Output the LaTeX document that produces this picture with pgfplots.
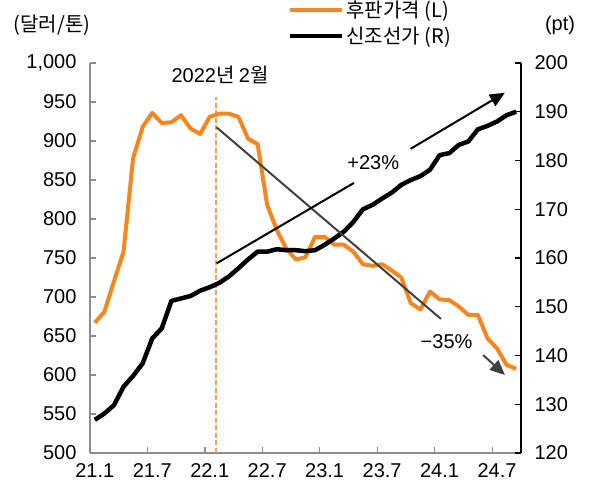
\documentclass[border=0pt]{standalone}
\usepackage{fontspec}
\setmainfont{Liberation Sans}
\newfontfamily\kr{Noto Sans CJK KR}
\usepackage{pgfplots}
\usepackage{pgfplotstable}
\pgfplotsset{compat=1.18}
\usetikzlibrary{arrows.meta,calc}
\definecolor{orng}{HTML}{F7861F}
\definecolor{dashc}{HTML}{F5A050}
\definecolor{gry}{HTML}{404040}
\definecolor{axg}{HTML}{8C8C8C}
\pgfplotstableread{
i steel ship
0 667 126.8
1 681 128.1
2 720 129.8
3 758 133.6
4 878 135.8
5 918 138.4
6 936 143.5
7 923 145.6
8 924 151.2
9 933 151.7
10 916 152.2
11 909 153.3
12 931 154.0
13 935 154.9
14 935 156.2
15 931 157.9
16 903 159.7
17 896 161.3
18 818 161.3
19 786 161.8
20 762 161.6
21 748 161.6
22 751 161.4
23 777 161.6
24 777 162.7
25 767 164.0
26 767 165.4
27 758 167.4
28 742 170.0
29 740 170.9
30 742 172.2
31 734 173.4
32 725 175.0
33 692 176.0
34 684 176.8
35 707 178.1
36 697 181.1
37 696 181.5
38 688 183.2
39 677 183.9
40 677 186.4
41 647 187.1
42 634 188.0
43 613 189.3
44 608 190.0
}\data
\newcommand{\fs}{\fontsize{20}{22}\selectfont}
\begin{document}
\begin{tikzpicture}
\pgfplotsset{
  base/.style={
    scale only axis, width=431pt, height=390pt,
    xmin=-0.5, xmax=44.5,
    tick align=inside, major tick length=6pt, minor tick length=6pt,
    ticklabel style={font=\fs},
    /pgf/number format/assume math mode=true,
    clip=false,
  }
}
\begin{axis}[base, name=ax,
  ymin=500, ymax=1000,
  axis y line*=left, axis x line*=bottom,
  axis line style={axg, line width=1.2pt},
  xtick={0,6,...,42},
  xticklabels={21.1,21.7,22.1,22.7,23.1,23.7,24.1,24.7},
  major x tick style={draw=none},
  minor xtick={5.5,11.5,...,41.5},
  minor x tick style={axg, line width=1.2pt},
  ytick={500,550,...,1000},
  y tick style={axg, line width=1.2pt},
  /pgf/number format/1000 sep={,},
  yticklabel style={xshift=-10pt},
  xticklabel style={yshift=-7pt},
]
\addplot[dashc, line width=1.8pt, dash pattern=on 5pt off 2.5pt, forget plot] coordinates {(12.62,500) (12.62,957)};
\addplot[orng, line width=4pt, line join=round] table[x=i, y=steel]{\data};
\end{axis}
\begin{axis}[base,
  ymin=120, ymax=200,
  axis y line*=right, axis x line=none,
  y axis line style={black, line width=1.2pt},
  ytick={120,130,...,200},
  y tick style={black, line width=1.2pt},
  yticklabel style={xshift=10pt},
  legend style={at={(rel axis cs:0.459,1.165)}, anchor=north west, draw=none, fill=none,
    font=\fs\kr, inner sep=0pt, row sep=4pt},
  legend image code/.code={\draw[#1] (0pt,0pt) -- (52pt,0pt);},
  legend cell align=left,
]
\addlegendimage{orng, line width=4pt}
\addlegendentry{후판가격 (L)}
\addlegendimage{black, line width=4.5pt}
\addlegendentry{신조선가 (R)}
\addplot[black, line width=4.5pt, line join=round, forget plot] table[x=i, y=ship]{\data};
\addplot[gry, line width=2pt, forget plot] coordinates {(12.72,186.8) (36.14,147.5)};
\addplot[gry, line width=2pt, -{Triangle[length=15pt,width=13pt]}, forget plot] coordinates {(40.55,140.1) (42.82,136.0)};
\addplot[black, line width=2pt, forget plot] coordinates {(12.72,158.9) (27.06,175.4)};
\addplot[black, line width=2pt, -{Triangle[length=15pt,width=13pt]}, forget plot] coordinates {(32.98,182.4) (42.82,193.9)};
\node[font=\fs] at (axis cs:29.07,179.5) {+23\%};
\node[font=\fs] at (axis cs:36.73,142.8) {−35\%};
\node[font=\fs] at (axis cs:13.07,197.5) {2022\kr 년 \rmfamily 2\kr 월};
\node[font=\fs\kr] at (rel axis cs:-0.088,1.097) {(달러/톤)};
\node[font=\fs] at (rel axis cs:1.0905,1.097) {(pt)};
\end{axis}
\pgfresetboundingbox
\path ($(ax.south west)+(-90pt,-36pt)$) rectangle ++(592pt,489pt);
\end{tikzpicture}
\end{document}
